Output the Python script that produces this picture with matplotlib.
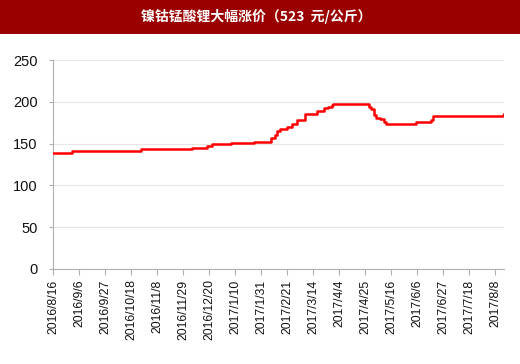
import pandas as pd
import matplotlib.pyplot as plt
import matplotlib.dates as mdates
from matplotlib.patches import Rectangle

plt.rcParams['font.family'] = ['Liberation Sans', 'DejaVu Sans']

# price change points (元/公斤)
dates = ['2016-08-16', '2016-08-31', '2016-10-26', '2016-11-29', '2016-12-06',
         '2016-12-18', '2016-12-22', '2017-01-07', '2017-01-25', '2017-02-08',
         '2017-02-11', '2017-02-13', '2017-02-15', '2017-02-21', '2017-02-25',
         '2017-03-01', '2017-03-07', '2017-03-17', '2017-03-23', '2017-03-26',
         '2017-03-29', '2017-03-30', '2017-04-28', '2017-04-30', '2017-05-02',
         '2017-05-04', '2017-05-07', '2017-05-10', '2017-05-12', '2017-05-22',
         '2017-06-03', '2017-06-05', '2017-06-17', '2017-06-19', '2017-08-14',
         '2017-08-15']
prices = [139, 141, 143, 144, 145,
          147, 149, 151, 152, 157,
          160, 165, 167, 170, 173,
          178, 185, 189, 192, 194,
          196, 197, 194, 191, 184,
          181, 179, 176, 174, 173,
          174, 176, 178, 183, 184,
          185]

title = '镍钴锰酸锂大幅涨价（523  元/公斤）'

x = pd.to_datetime(dates)
ticks = pd.date_range('2016-08-16', '2017-08-08', freq='21D')
tick_labels = [f'{d.year}/{d.month}/{d.day}' for d in ticks]

fig = plt.figure(figsize=(5.2, 3.64), dpi=100)
# title bar
fig.patches.append(Rectangle((0, 1 - 34 / 364), 1, 34 / 364, transform=fig.transFigure,
                             facecolor='#9b0000', edgecolor='none', zorder=0))
fig.text(0.493, 1 - 16 / 364, title, color='white', fontsize=10, fontweight='bold',
         ha='center', va='center', family=['Noto Sans CJK SC', 'DejaVu Sans'])

ax = fig.add_axes([53 / 520, 95 / 364, 451 / 520, 209 / 364])
ax.plot(x, prices, color='#ff0000', lw=1.8, drawstyle='steps-post', zorder=3)

ax.set_ylim(0, 250)
ax.set_yticks(range(0, 251, 50))
ax.set_xlim(pd.Timestamp('2016-08-16'), pd.Timestamp('2017-08-15'))
ax.set_xticks(ticks)
ax.set_xticklabels(tick_labels, rotation=90)

ax.grid(axis='y', color='#e6e6e6', lw=0.8)
ax.set_axisbelow(True)
for s in ['top', 'right']:
    ax.spines[s].set_visible(False)
for s in ['left', 'bottom']:
    ax.spines[s].set_color('#b0b0b0')
ax.tick_params(axis='both', colors='#b0b0b0', labelcolor='#111111', length=4)
ax.tick_params(axis='x', labelsize=8.7)
ax.tick_params(axis='y', labelsize=10.5, length=3, pad=8)

fig.savefig('out.png', dpi=100)
